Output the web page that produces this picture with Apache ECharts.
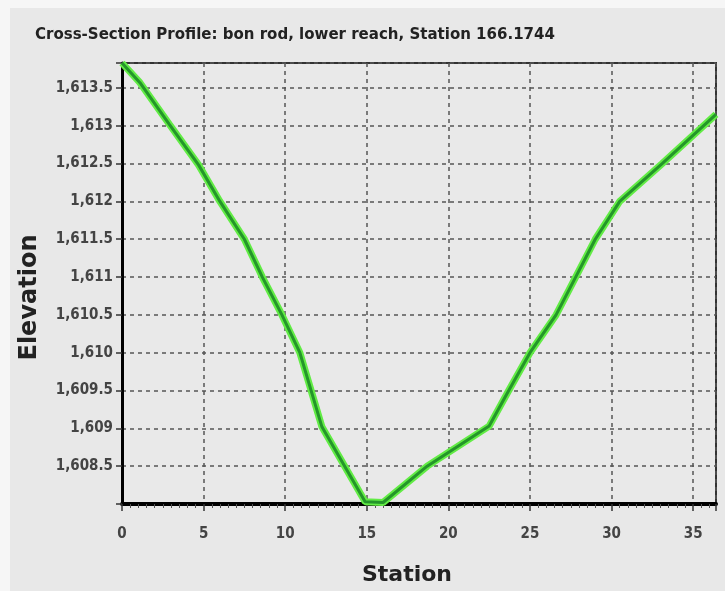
<!DOCTYPE html>
<html>
<head>
<meta charset="utf-8">
<script src="https://cdn.jsdelivr.net/npm/echarts@6/dist/echarts.min.js"></script>
<style>
  html, body { margin: 0; padding: 0; background: #f6f6f6; width: 725px; height: 591px; overflow: hidden; }
  #chart { position: absolute; left: 10px; top: 8px; width: 715px; height: 583px; background: #e8e8e8; }
</style>
</head>
<body>
<div id="chart"></div>
<script>
// Cross-section profile: station (horizontal distance) vs. ground elevation
const stations   = [0, 1.1, 2.9, 4.7, 6.0, 7.5, 8.6, 9.8, 10.9, 12.25, 14.9, 16.0, 18.7, 22.5, 23.7, 25.0, 26.6, 27.8, 29.0, 30.5, 33.1, 36.4];
const elevations = [1613.83, 1613.57, 1613.02, 1612.48, 1612.0, 1611.5, 1611.0, 1610.5, 1610.0, 1609.02, 1608.03, 1608.02, 1608.5, 1609.03, 1609.5, 1610.0, 1610.5, 1611.0, 1611.5, 1612.0, 1612.5, 1613.15];
const xTicks = [0, 5, 10, 15, 20, 25, 30, 35];
const yTicks = [1608.5, 1609, 1609.5, 1610, 1610.5, 1611, 1611.5, 1612, 1612.5, 1613, 1613.5];

const titleText = 'Cross-Section Profile: bon rod, lower reach, Station 166.1744';
const narrow = '"Liberation Sans Narrow", "DejaVu Sans Condensed", "Arial Narrow", sans-serif';

const profile = stations.map((s, i) => [s, elevations[i]]);

const fmtY = v => {
  if (!yTicks.some(t => Math.abs(t - v) < 1e-6)) return '';
  return v.toLocaleString('en-US', { maximumFractionDigits: 1 });
};
const fmtX = v => xTicks.includes(v) ? String(v) : '';

const chart = echarts.init(document.getElementById('chart'), null, { renderer: 'canvas' });
chart.setOption({
  animation: false,
  backgroundColor: '#e8e8e8',
  title: {
    text: titleText,
    left: 20, top: 13,
    textStyle: { fontFamily: narrow, fontWeight: 'bold', fontSize: 16.7, color: '#222' }
  },
  grid: {
    left: 112, top: 55, right: 9, bottom: 86,
    show: true, backgroundColor: '#e9e9e9', borderColor: '#333', borderWidth: 2
  },
  xAxis: {
    type: 'value', min: 0, max: 36.4, interval: 5,
    name: 'Station', nameLocation: 'middle', nameGap: 60,
    nameTextStyle: { fontFamily: 'DejaVu Sans', fontWeight: 'bold', fontSize: 22, color: '#222', padding: [0, 24, 0, 0] },
    axisLine: { show: true, onZero: false, lineStyle: { color: '#000', width: 4 } },
    axisTick: { show: true, length: 7, lineStyle: { color: '#333', width: 1.5 } },
    minorTick: { show: true, splitNumber: 10, length: 4, lineStyle: { color: '#555', width: 1 } },
    axisLabel: { formatter: fmtX, margin: 23, fontFamily: narrow, fontWeight: 'bold', fontSize: 15, color: '#444' },
    splitLine: { show: true, lineStyle: { color: '#555', width: 1.5, type: [4, 4] } }
  },
  yAxis: {
    type: 'value', min: 1608, max: 1613.83, interval: 0.5,
    name: 'Elevation', nameLocation: 'middle', nameGap: 80, nameRotate: 90,
    nameTextStyle: { fontFamily: 'DejaVu Sans', fontWeight: 'bold', fontSize: 24, color: '#222', padding: [0, 28, 0, 0] },
    axisLine: { show: true, onZero: false, lineStyle: { color: '#000', width: 3 } },
    axisTick: { show: true, length: 6, lineStyle: { color: '#333', width: 1.5 } },
    axisLabel: { formatter: fmtY, margin: 9, fontFamily: narrow, fontWeight: 'bold', fontSize: 15, color: '#444' },
    splitLine: { show: true, lineStyle: { color: '#555', width: 1.5, type: [4, 4] } }
  },
  series: [
    {
      type: 'line', data: profile, symbol: 'none', silent: true,
      lineStyle: { color: '#62ec45', width: 7 }
    },
    {
      type: 'line', data: profile, symbol: 'none', silent: true,
      lineStyle: { color: '#24952a', width: 3 }
    }
  ]
});
</script>
</body>
</html>
